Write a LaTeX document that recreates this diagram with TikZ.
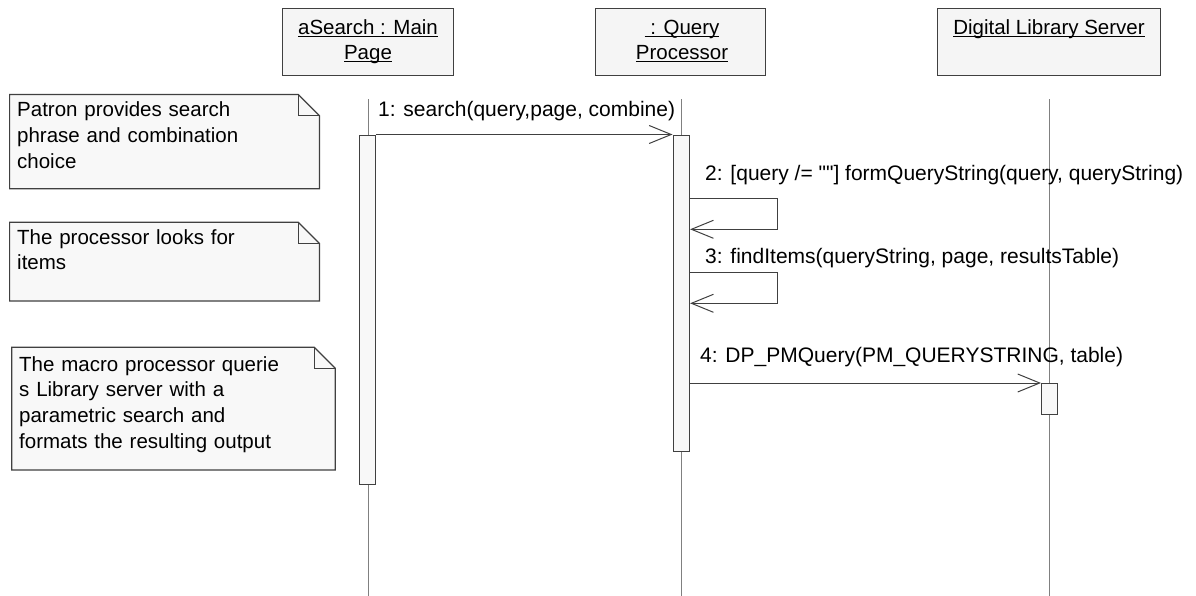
\documentclass[tikz,border=0pt]{standalone}
\usepackage{fontspec}
\setmainfont{Liberation Sans}[Ligatures=TeXOff]
\usetikzlibrary{arrows.meta,calc}
\definecolor{edgeC}{HTML}{404040}
\definecolor{lifeC}{HTML}{808080}
\definecolor{boxF}{HTML}{F5F5F5}
\definecolor{noteF}{HTML}{F8F8F8}
\newcommand\myul[1]{\setbox0=\hbox{#1}\rlap{\copy0}\rule[-2.2pt]{\wd0}{1.4pt}}
\tikzset{
  every node/.style={font=\fontsize{20.5}{25.8}\selectfont, inner sep=0pt, text=black},
  headbox/.style={draw=edgeC, line width=1.2pt, fill=boxF, minimum height=66.4pt, anchor=north},
  actbox/.style={draw=edgeC, line width=1.1pt, fill=noteF, anchor=north west},
  life/.style={draw=lifeC, line width=0.9pt},
  msg/.style={draw=edgeC, line width=1pt, -{Straight Barb[length=22pt,width=18pt,line width=1pt]}},
  notefill/.style={fill=noteF, draw=edgeC, line width=1.2pt, line join=miter},
  notetext/.style={anchor=base west, align=left, text width=320pt},
  msglabel/.style={anchor=base west, font=\fontsize{21}{25.8}\selectfont}
}
\begin{document}
\begin{tikzpicture}[x=1pt,y=-1pt]
\useasboundingbox (0,0) rectangle (1196,596);
% lifeline heads
\node[headbox, minimum width=171pt] (h1) at (368,8.3) {};
\node[headbox, minimum width=170pt] (h2) at (680.3,8.3) {};
\node[headbox, minimum width=223.5pt] (h3) at (1049,8.3) {};
\node[anchor=base] (h1a) at (368,35) {\myul{aSearch : Main}};
\node[anchor=base] (h1b) at (368,60) {\myul{Page}};
\node[anchor=base] (h2a) at (682,35) {\myul{\ : Query}};
\node[anchor=base] (h2b) at (682,60) {\myul{Processor}};
\node[anchor=base] (h3a) at (1049,35) {\myul{Digital Library Server}};
% lifelines
\coordinate (l1t) at (368.7,99.3);
\coordinate (l1b) at (368.7,596);
\coordinate (l2t) at (681.3,99.3);
\coordinate (l2b) at (681.3,596);
\coordinate (l3t) at (1049.6,99.3);
\coordinate (l3b) at (1049.6,596);
\draw[life] (l1t) -- (l1b);
\draw[life] (l2t) -- (l2b);
\draw[life] (l3t) -- (l3b);
% activations
\node[actbox, minimum width=16.3pt, minimum height=349.5pt] (a1) at (358.5,134.7) {};
\node[actbox, minimum width=16.5pt, minimum height=316pt] (a2) at (672.5,135) {};
\node[actbox, minimum width=16pt, minimum height=31pt] (a3) at (1041,383) {};
% notes
\coordinate (n1nw) at (9.6,94.5);
\coordinate (n1se) at (319.5,188.7);
\filldraw[notefill] (n1nw) -- (298.3,94.5) -- (319.5,115.8) -- (n1se) -- (9.6,188.7) -- cycle;
\draw[edgeC, line width=1.2pt] (298.3,94.5) -- (298.3,115.8) -- (319.5,115.8);
\node[notetext] (t1) at (17,117) {Patron provides search\\phrase and combination\\choice};
\coordinate (n2nw) at (9.6,222.3);
\coordinate (n2se) at (319.5,301);
\filldraw[notefill] (n2nw) -- (298.3,222.3) -- (319.5,243.6) -- (n2se) -- (9.6,301) -- cycle;
\draw[edgeC, line width=1.2pt] (298.3,222.3) -- (298.3,243.6) -- (319.5,243.6);
\node[notetext] (t2) at (17,244) {The processor looks for\\items};
\coordinate (n3nw) at (11.7,347.3);
\coordinate (n3se) at (335.3,470);
\filldraw[notefill] (n3nw) -- (314.3,347.3) -- (335.3,368.3) -- (n3se) -- (11.7,470) -- cycle;
\draw[edgeC, line width=1.2pt] (314.3,347.3) -- (314.3,368.3) -- (335.3,368.3);
\node[notetext] (t3) at (19,371) {The macro processor querie\\s Library server with a\\parametric search and\\formats the resulting output};
% messages
\draw[msg] (a1.east |- 0,134.5) -- (a2.west |- 0,134.5);
\node[msglabel] (m1) at (378,117) {1: search(query,page, combine)};
\coordinate (s2a) at (777.4,199);
\coordinate (s2b) at (777.4,229.3);
\draw[msg] (a2.east |- s2a) -- (s2a) -- (s2b) -- (a2.east |- s2b);
\node[msglabel] (m2) at (705,181) {2: [query /= ""] formQueryString(query, queryString)};
\coordinate (s3a) at (777.4,272.7);
\coordinate (s3b) at (777.4,303.3);
\draw[msg] (a2.east |- s3a) -- (s3a) -- (s3b) -- (a2.east |- s3b);
\node[msglabel] (m3) at (705,263) {3: findItems(queryString, page, resultsTable)};
\draw[msg] (a2.east |- 0,383) -- (a3.west |- 0,383);
\node[msglabel] (m4) at (700,362) {4: DP\_PMQuery(PM\_QUERYSTRING, table)};
\end{tikzpicture}
\end{document}
